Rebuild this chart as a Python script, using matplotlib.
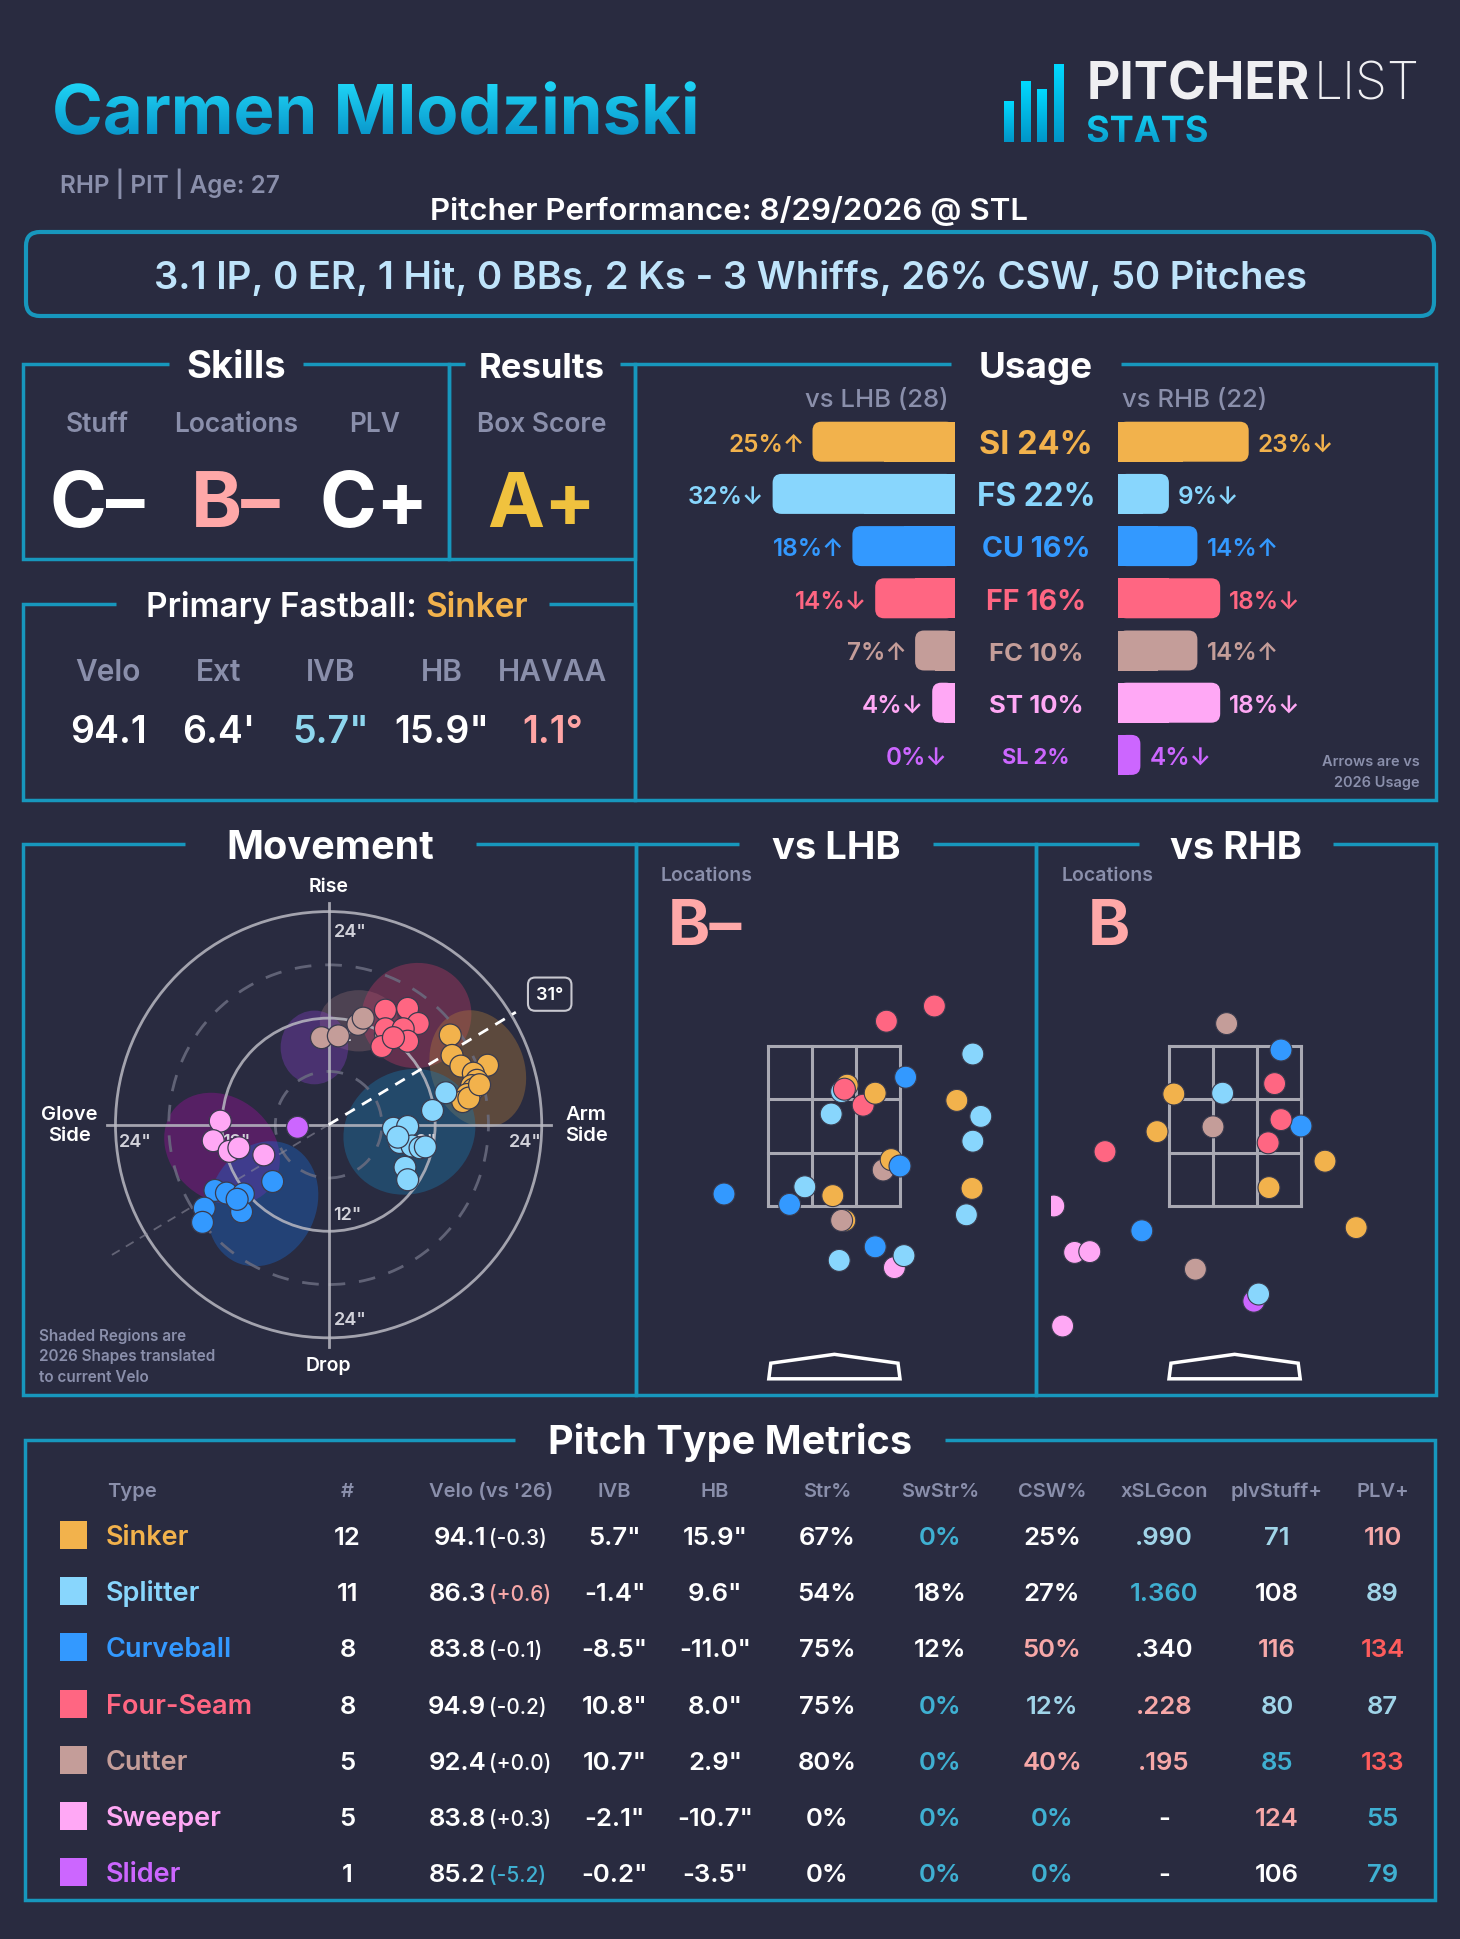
import numpy as np
import matplotlib
matplotlib.use("Agg")
import matplotlib.pyplot as plt
from matplotlib.patches import FancyBboxPatch, Ellipse, Circle, Polygon, PathPatch
from matplotlib.textpath import TextPath
from matplotlib.font_manager import FontProperties
from matplotlib.transforms import Affine2D
from matplotlib.colors import LinearSegmentedColormap

plt.rcParams["font.family"] = ["Inter", "DejaVu Sans"]

W, H = 1460, 1940
BG = "#292b40"
FRAME = "#1797bd"
GRAY = "#8a8fab"
WHITE = "#ffffff"
LW = 2.5

# ---------------- data ----------------
pitcher = "Carmen Mlodzinski"
bio = "RHP | PIT | Age: 27"
game = "Pitcher Performance: 8/29/2026 @ STL"
line_score = "3.1 IP, 0 ER, 1 Hit, 0 BBs, 2 Ks - 3 Whiffs, 26% CSW, 50 Pitches"

skill_labels = ["Stuff", "Locations", "PLV"]
skill_grades = ["C-", "B-", "C+"]
result_grade = "A+"

fb_labels = ["Velo", "Ext", "IVB", "HB", "HAVAA"]
fb_values = ["94.1", "6.4'", '5.7"', '15.9"', "1.1°"]

pitch_codes = ["SI", "FS", "CU", "FF", "FC", "ST", "SL"]
pitch_names = ["Sinker", "Splitter", "Curveball", "Four-Seam", "Cutter", "Sweeper", "Slider"]
pitch_colors = {"SI": "#f2b24c", "FS": "#88d6fd", "CU": "#3399ff", "FF": "#ff6682",
                "FC": "#c49d99", "ST": "#ffa8f5", "SL": "#cc66ff"}
shape_colors = {"SI": "#b07a3a", "FS": "#1a7ab0", "CU": "#1a6ad0", "FF": "#c03a66",
                "FC": "#8a6a70", "ST": "#a010a0", "SL": "#8040c0"}

# usage
usage_all = [24, 22, 16, 16, 10, 10, 2]
usage_lhb = [25, 32, 18, 14, 7, 4, 0]
usage_rhb = [23, 9, 14, 18, 14, 18, 4]
arrow_lhb = ["↑", "↓", "↑", "↓", "↑", "↓", "↓"]
arrow_rhb = ["↓", "↓", "↑", "↓", "↑", "↓", "↓"]
n_lhb, n_rhb = 28, 22

# movement (HB, IVB in inches)
mv_type = ["FC"] * 5 + ["FF"] * 8 + ["SI"] * 12 + ["FS"] * 11 + ["ST"] * 5 + ["CU"] * 8 + ["SL"]
mv_hb = [-0.8, 1.1, 3.3, 3.9, 6.4,
         6.4, 8.9, 10.1, 6.4, 8.4, 8.9, 6.0, 7.3,
         13.7, 13.9, 14.9, 17.9, 16.3, 16.7, 16.1, 16.3, 15.6, 15.1, 15.8, 17.0,
         13.2, 11.7, 7.3, 8.9, 8.0, 9.4, 10.3, 10.9, 8.6, 8.9, 7.8,
         -12.2, -13.0, -11.2, -10.1, -7.3,
         -6.3, -12.8, -11.5, -9.6, -14.0, -9.8, -14.2, -10.3,
         -3.5]
mv_ivb = [9.8, 10.0, 11.3, 12.0, 10.2,
          12.9, 13.1, 11.4, 10.8, 10.8, 9.4, 8.8, 9.8,
          10.1, 7.8, 6.6, 6.7, 5.8, 5.0, 4.4, 4.0, 3.4, 2.6, 3.0, 4.5,
          3.6, 1.6, -0.4, -0.2, -2.0, -2.4, -2.6, -2.5, -4.8, -6.2, -1.4,
          0.4, -1.8, -3.0, -2.6, -3.4,
          -6.4, -7.4, -7.7, -7.8, -9.4, -9.8, -11.0, -8.4,
          -0.3]
# 2026 shapes: center hb, center ivb, width, height, angle
shape_type = ["FC", "FF", "SI", "FS", "SL", "ST", "CU"]
shape_hb = [3.4, 9.9, 16.8, 9.1, -1.6, -12.0, -7.4]
shape_ivb = [11.7, 12.3, 6.3, -0.8, 8.7, -2.7, -8.9]
shape_w = [8.8, 12.4, 10.5, 15.2, 7.6, 14.0, 12.0]
shape_h = [6.9, 11.8, 13.5, 13.8, 8.3, 11.5, 14.5]
shape_ang = [0, 15, 20, 30, 0, -40, -25]
arm_angle = 31

# locations (plate_x, plate_z in ft, catcher view)
lhb_type = ["FS", "SI", "FS", "FF", "FF", "SI", "FS", "FS", "FS", "CU", "FC", "SI",
            "SI", "CU", "FS", "CU", "FS", "SI", "SI", "FC", "CU", "ST", "FS", "CU",
            "FF", "FF", "SI", "FS"]
lhb_x = [0.09, 0.16, -0.04, 0.125, 0.36, 0.51, 1.73, 1.83, 1.73, 0.89, 0.61, 0.71,
         1.53, 0.82, 1.65, -1.38, -0.37, 1.72, 0.13, 0.09, -0.56, 0.75, 0.87, 0.51,
         0.65, 1.25, -0.02, 0.06]
lhb_z = [2.93, 3.01, 2.65, 2.96, 2.76, 2.91, 3.40, 2.62, 2.31, 3.11, 1.95, 2.08,
         2.82, 2.00, 1.39, 1.65, 1.74, 1.72, 1.32, 1.32, 1.52, 0.73, 0.88, 0.99,
         3.81, 4.00, 1.63, 0.82]
rhb_type = ["FC", "FC", "FC", "CU", "CU", "CU", "FF", "FF", "FF", "FF", "SI", "SI",
            "SI", "SI", "SI", "FS", "ST", "ST", "ST", "ST", "SL", "FS"]
rhb_x = [-0.10, -0.27, -0.49, 0.58, 0.83, -1.16, 0.50, 0.58, 0.42, -1.62, -0.76, -0.97,
         1.13, 0.43, 1.52, -0.15, -2.26, -2.00, -1.81, -2.15, 0.24, 0.30]
rhb_z = [3.78, 2.49, 0.71, 3.45, 2.50, 1.19, 3.03, 2.58, 2.29, 2.18, 2.90, 2.43,
         2.06, 1.73, 1.23, 2.91, 1.50, 0.92, 0.93, 0.00, 0.31, 0.40]
loc_grade_lhb, loc_grade_rhb = "B-", "B"

# pitch type metrics table
tbl_count = [12, 11, 8, 8, 5, 5, 1]
tbl_velo = [94.1, 86.3, 83.8, 94.9, 92.4, 83.8, 85.2]
tbl_velo_diff = ["-0.3", "+0.6", "-0.1", "-0.2", "+0.0", "+0.3", "-5.2"]
tbl_ivb = [5.7, -1.4, -8.5, 10.8, 10.7, -2.1, -0.2]
tbl_hb = [15.9, 9.6, -11.0, 8.0, 2.9, -10.7, -3.5]
tbl_str = [67, 54, 75, 75, 80, 0, 0]
tbl_swstr = [0, 18, 12, 0, 0, 0, 0]
tbl_csw = [25, 27, 50, 12, 40, 0, 0]
tbl_xslg = [".990", "1.360", ".340", ".228", ".195", "-", "-"]
tbl_stuff = [71, 108, 116, 80, 85, 124, 106]
tbl_plv = [110, 89, 134, 87, 133, 55, 79]
# colour grades: w white, p pink, r red, l light blue, t teal
col_velo_diff = ["w", "p", "w", "w", "w", "w", "t"]
col_swstr = ["t", "w", "w", "t", "t", "t", "t"]
col_csw = ["w", "w", "p", "l", "p", "t", "t"]
col_xslg = ["l", "t", "w", "p", "p", "w", "w"]
col_stuff = ["l", "w", "p", "l", "t", "p", "w"]
col_plv = ["p", "l", "r", "l", "r", "t", "t"]
GRADE = {"w": WHITE, "p": "#f7a8a8", "r": "#ff5c5c", "l": "#a0d4e8", "t": "#3fb0d2"}

# ---------------- figure ----------------
fig = plt.figure(figsize=(W / 100, H / 100), dpi=100, facecolor=BG)
ax = fig.add_axes([0, 0, 1, 1])
ax.set_facecolor(BG)
ax.axis("off")
ax.set_xlim(0, W)
ax.set_ylim(H, 0)
ax.set_autoscale_on(False)


def px_axes(x0, y0, x1, y1):
    a = fig.add_axes([x0 / W, 1 - y1 / H, (x1 - x0) / W, (y1 - y0) / H])
    a.axis("off")
    a.patch.set_alpha(0)
    return a


def txt(x, y, s, size, color=WHITE, weight="semibold", ha="center", **kw):
    return ax.text(x, y, s, fontsize=size, color=color, fontweight=weight,
                   ha=ha, va="baseline", **kw)


def frame(x0, y0, x1, y1, gap):
    ax.plot([gap[0], x0, x0, x1, x1, gap[1]], [y0, y0, y1, y1, y0, y0],
            color=FRAME, lw=LW, solid_joinstyle="miter", solid_capstyle="butt")


def grad_text(x, base, s, size, c_top, c_bot, weight="bold"):
    fp = FontProperties(family="Inter", weight=weight)
    tp = TextPath((0, 0), s, size=size * 100 / 72, prop=fp)
    tr = Affine2D().scale(1, -1).translate(x, base) + ax.transData
    patch = PathPatch(tp, transform=tr, fc="none", ec="none")
    ax.add_patch(patch)
    bb = tp.get_extents()
    cmap = LinearSegmentedColormap.from_list("g", [c_top, c_bot])
    im = ax.imshow(np.linspace(0, 1, 128).reshape(-1, 1), cmap=cmap, aspect="auto",
                   extent=[x + bb.x0, x + bb.x1, base - bb.y0, base - bb.y1],
                   interpolation="bicubic")
    im.set_clip_path(patch)
    return bb


def grad_rect(x0, y0, x1, y1, c_top, c_bot):
    cmap = LinearSegmentedColormap.from_list("g", [c_top, c_bot])
    ax.imshow(np.linspace(0, 1, 128).reshape(-1, 1), cmap=cmap, aspect="auto",
              extent=[x0, x1, y1, y0], interpolation="bicubic")


# ---------------- header ----------------
grad_text(52, 135, pitcher, 49.5, "#1fd6f7", "#0a98cc")
# logo
for bx, top in zip([1004, 1021, 1037, 1054], [102, 82, 90, 65]):
    grad_rect(bx, top, bx + 9.5, 143, "#00d9ff", "#0095c8")
t1 = txt(1087, 100, "PITCHER", 37, "#efeff2", "bold", ha="left")
fig.canvas.draw()
r = fig.canvas.get_renderer()
e = t1.get_window_extent(r)
txt(e.x1 + 3, 100, "LIST", 37, "#efeff2", "light", ha="left")
grad_text(1086, 143, "STATS", 26, "#12d2f5", "#0a9ccc")

txt(60, 193, bio, 17.5, GRAY, ha="left")
txt(729, 220, game, 22.5)
ax.add_patch(FancyBboxPatch((26, 233), 1408, 84, boxstyle="round,pad=0,rounding_size=14",
                            fc="none", ec=FRAME, lw=LW + 0.5))
txt(730, 289, line_score, 27.5, "#bfe4fb", "semibold")

# ---------------- skills / results ----------------
frame(23, 365, 449, 560, (169, 303))
frame(449, 365, 635, 560, (465, 620))
frame(635, 365, 1436, 801, (951, 1121))
frame(23, 605, 635, 801, (116, 549))
txt(236, 378, "Skills", 27.5, weight="bold")
txt(542, 378, "Results", 25, weight="bold")
txt(1036, 378, "Usage", 26.5, weight="bold")

grade_col = {"C-": WHITE, "B-": "#ffa8a8", "C+": WHITE, "A+": "#f0c23e", "B": "#ffa8a8"}
for x, lab, g in zip([97, 236, 374.5], skill_labels, skill_grades):
    txt(x, 432, lab, 19, GRAY)
    txt(x, 527, g.replace("-", "–"), 55.5, grade_col[g], "bold")
txt(542, 432, "Box Score", 19, GRAY)
txt(542, 527, result_grade, 55, grade_col[result_grade], "bold")

# primary fastball title
p1 = txt(0, 617, "Primary Fastball: ", 24)
p2 = txt(0, 617, pitch_names[0], 24, pitch_colors["SI"])
fig.canvas.draw()
w1 = p1.get_window_extent(r).width
w2 = p2.get_window_extent(r).width
start = 337 - (w1 + w2) / 2
p1.set_position((start + w1 / 2, 617))
p2.set_position((start + w1 + w2 / 2, 617))

fb_cols = [WHITE, WHITE, "#8ed6ee", WHITE, "#ffa5a5"]
for x, lab, v, c in zip([108, 219, 330.5, 441.5, 553], fb_labels, fb_values, fb_cols):
    txt(x, 681, lab, 21.5, GRAY)
    txt(x, 743, v, 27, c)

# ---------------- usage ----------------
PXU = 5.7
ROW0, ROWH = 442.7, 52.2
yt, yb = ROW0 - ROWH / 2, ROW0 + 6.5 * ROWH
axl = px_axes(955 - 40 * PXU, yt, 955, yb)
axr = px_axes(1117.6, yt, 1117.6 + 40 * PXU, yb)
axl.set_xlim(40, 0)
axr.set_xlim(0, 40)
for a in (axl, axr):
    a.set_ylim(6.5, -0.5)
bar_h = 40 / ROWH
rr = 9 / PXU
asp = PXU / ROWH


def rbar(a, i, v, c):
    if v <= 0:
        return
    a.add_patch(FancyBboxPatch((0, i - bar_h / 2), v, bar_h,
                               boxstyle=f"round,pad=0,rounding_size={rr}",
                               mutation_aspect=asp, fc=c, ec="none"))
    a.barh(i, v / 2, height=bar_h, color=c, lw=0)


cx_units = (1036 - 1117.6) / PXU
for i, code in enumerate(pitch_codes):
    c = pitch_colors[code]
    rbar(axl, i, usage_lhb[i], c)
    rbar(axr, i, usage_rhb[i], c)
    off = 9 / ROWH
    axl.text(usage_lhb[i] + 1.4, i + off, f"{usage_lhb[i]}%{arrow_lhb[i]}", color=c,
             fontsize=17.5, fontweight="semibold", ha="right", va="baseline")
    axr.text(usage_rhb[i] + 1.6, i + off, f"{usage_rhb[i]}%{arrow_rhb[i]}", color=c,
             fontsize=17.5, fontweight="semibold", ha="left", va="baseline")
    fs = 15 + usage_all[i] * 0.35
    axr.text(cx_units, i + fs / 2 / ROWH, f"{code} {usage_all[i]}%", color=c,
             fontsize=fs, fontweight="bold", ha="center", va="baseline", clip_on=False)
txt(949, 407, f"vs LHB ({n_lhb})", 18.5, GRAY, "medium", ha="right")
txt(1122, 407, f"vs RHB ({n_rhb})", 18.5, GRAY, "medium", ha="left")
txt(1420, 766, "Arrows are vs", 10.5, GRAY, ha="right")
txt(1420, 787, "2026 Usage", 10.5, GRAY, ha="right")

# ---------------- movement ----------------
frame(23, 845, 636, 1396, (184.5, 475.5))
frame(636, 845, 1036, 1396, (738.5, 933))
frame(1036, 845, 1436, 1396, (1139, 1333))
txt(330, 859, "Movement", 28.5, weight="bold")
txt(836.5, 859, "vs LHB", 27.5, weight="bold")
txt(1235.6, 859, "vs RHB", 27.5, weight="bold")

PXI = 8.88
mcx, mcy = 328.6, 1125.7
mx0, mx1, my0, my1 = 30, 628, 852, 1392
axm = px_axes(mx0, my0, mx1, my1)
axm.set_xlim((mx0 - mcx) / PXI, (mx1 - mcx) / PXI)
axm.set_ylim((mcy - my1) / PXI, (mcy - my0) / PXI)

for t, x, y, w_, h_, a_ in zip(shape_type, shape_hb, shape_ivb, shape_w, shape_h, shape_ang):
    axm.add_patch(Ellipse((x, y), w_, h_, angle=a_, fc=shape_colors[t], alpha=0.38,
                          ec="none", zorder=1))
ring = "#b9b9c2"
for rad, ls, c in [(24, "-", ring), (12, "-", ring), (18, (0, (6, 5)), "#6b6d80"),
                   (6, (0, (6, 5)), "#6b6d80")]:
    axm.add_patch(Circle((0, 0), rad, fill=False, ec=c, lw=2, ls=ls, zorder=2,
                         alpha=0.85))
axm.plot([-25, 25], [0, 0], color=ring, lw=2, alpha=0.85, zorder=2)
axm.plot([0, 0], [-25, 25], color=ring, lw=2, alpha=0.85, zorder=2)
th = np.deg2rad(arm_angle)
axm.plot([0, 24.6 * np.cos(th)], [0, 24.6 * np.sin(th)], color=WHITE, lw=2,
         ls=(0, (4, 3)), zorder=4)
axm.plot([0, -29 * np.cos(th)], [0, -29 * np.sin(th)], color="#8a8a9a", lw=1.3,
         ls=(0, (5, 4)), alpha=0.6, zorder=2)
axm.text(24.9, 14.7, f"{arm_angle}°", color=WHITE, fontsize=13, fontweight="semibold",
         ha="center", va="center", zorder=6,
         bbox=dict(boxstyle="round,pad=0.45,rounding_size=0.4", fc=BG, ec="#c8c8d0", lw=1.5))
ring_lab = [(0.6, 21.8, '24"', "left"), (0.6, -21.9, '24"', "left"), (0.5, -10.1, '12"', "left"),
            (-21.8, -1.9, '24"', "center"), (22.1, -1.9, '24"', "center"),
            (-10.4, -1.9, '12"', "center"), (10.6, -1.9, '12"', "center"),
            (0.5, 10.0, '12"', "left")]
for x, y, s, ha in ring_lab:
    axm.text(x, y, s, color="#d2d2da", fontsize=13, fontweight="semibold", ha=ha,
             va="center", zorder=3)
axm.scatter(mv_hb, mv_ivb, s=250, c=[pitch_colors[t] for t in mv_type],
            edgecolors="#3a3b4e", linewidths=0.9, zorder=5)
axm.text(0, 26.9, "Rise", color=WHITE, fontsize=14, fontweight="semibold",
         ha="center", va="center", clip_on=False)
axm.text(0, -27.1, "Drop", color=WHITE, fontsize=14, fontweight="semibold",
         ha="center", va="center", clip_on=False)
axm.text(-29.2, 0, "Glove\nSide", color=WHITE, fontsize=14.5, fontweight="semibold",
         ha="center", va="center", linespacing=1.25, clip_on=False)
axm.text(29.0, 0, "Arm\nSide", color=WHITE, fontsize=14.5, fontweight="semibold",
         ha="center", va="center", linespacing=1.25, clip_on=False)
for k, s in enumerate(["Shaded Regions are", "2026 Shapes translated", "to current Velo"]):
    txt(38.8, 1341 + k * 20.5, s, 11, GRAY, ha="left")

# ---------------- locations ----------------
PXF = 80
zone_l, zone_r, zone_b, zone_t = -0.825, 0.825, 1.5, 3.5
plate_x = [-0.82, 0.82, 0.795, 0, -0.795]
plate_z = [-0.66, -0.66, -0.465, -0.354, -0.465]


def loc_panel(x0, x1, zcx, types, xs, zs):
    a = px_axes(x0, 852, x1, 1392)
    a.set_xlim((x0 - zcx) / PXF, (x1 - zcx) / PXF)
    a.set_ylim(zone_b + (1207 - 1392) / PXF, zone_b + (1207 - 852) / PXF)
    zc = "#a9a9b3"
    for k in range(4):
        xv = zone_l + k * (zone_r - zone_l) / 3
        zv = zone_b + k * (zone_t - zone_b) / 3
        a.plot([xv, xv], [zone_b, zone_t], color=zc, lw=2.2, zorder=1)
        a.plot([zone_l, zone_r], [zv, zv], color=zc, lw=2.2, zorder=1)
    a.add_patch(Polygon(list(zip(plate_x, plate_z)), closed=True, fill=False,
                        ec=WHITE, lw=2.5))
    a.scatter(xs, zs, s=250, c=[pitch_colors[t] for t in types],
              edgecolors="#3a3b4e", linewidths=0.8, zorder=3)
    return a


loc_panel(650, 1030, 834.4, lhb_type, lhb_x, lhb_z)
loc_panel(1051, 1430, 1234.6, rhb_type, rhb_x, rhb_z)
txt(661, 881, "Locations", 14, GRAY, ha="left")
txt(1062, 881, "Locations", 14, GRAY, ha="left")
txt(668, 945, loc_grade_lhb.replace("-", "–"), 46, grade_col[loc_grade_lhb], "bold", ha="left")
txt(1088, 945, loc_grade_rhb, 46, grade_col[loc_grade_rhb], "bold", ha="left")

# ---------------- table ----------------
frame(25, 1441, 1435, 1901, (515, 945))
txt(730, 1454, "Pitch Type Metrics", 28.5, weight="bold")
col_x = [347.5, 491, 614.5, 715, 827, 940, 1052, 1164, 1277, 1382.6]
headers = ["#", "Velo (vs '26)", "IVB", "HB", "Str%", "SwStr%", "CSW%", "xSLGcon",
           "plvStuff+", "PLV+"]
txt(107, 1497, "Type", 14.5, GRAY, ha="left")
for x, hd in zip(col_x, headers):
    txt(x, 1497, hd, 14.5, GRAY)
for i, code in enumerate(pitch_codes):
    yc = 1536 + i * 56.2
    yb_ = yc + 9
    c = pitch_colors[code]
    ax.add_patch(plt.Rectangle((60, yc - 14), 27, 28, fc=c, ec="none"))
    txt(106, yb_, pitch_names[i], 19.5, c, ha="left")
    txt(col_x[0], yb_, str(tbl_count[i]), 18.5)
    txt(486, yb_, f"{tbl_velo[i]:.1f}", 18.5, ha="right")
    txt(489, yb_, f"({tbl_velo_diff[i]})", 15, GRADE[col_velo_diff[i]], "medium", ha="left")
    txt(col_x[2], yb_, f'{tbl_ivb[i]:.1f}"', 18.5)
    txt(col_x[3], yb_, f'{tbl_hb[i]:.1f}"', 18.5)
    txt(col_x[4], yb_, f"{tbl_str[i]}%", 18.5)
    txt(col_x[5], yb_, f"{tbl_swstr[i]}%", 18.5, GRADE[col_swstr[i]])
    txt(col_x[6], yb_, f"{tbl_csw[i]}%", 18.5, GRADE[col_csw[i]])
    txt(col_x[7], yb_, tbl_xslg[i], 18.5, GRADE[col_xslg[i]])
    txt(col_x[8], yb_, str(tbl_stuff[i]), 18.5, GRADE[col_stuff[i]])
    txt(col_x[9], yb_, str(tbl_plv[i]), 18.5, GRADE[col_plv[i]])

ax.set_xlim(0, W)
ax.set_ylim(H, 0)
fig.savefig("out.png", dpi=100, facecolor=BG)
